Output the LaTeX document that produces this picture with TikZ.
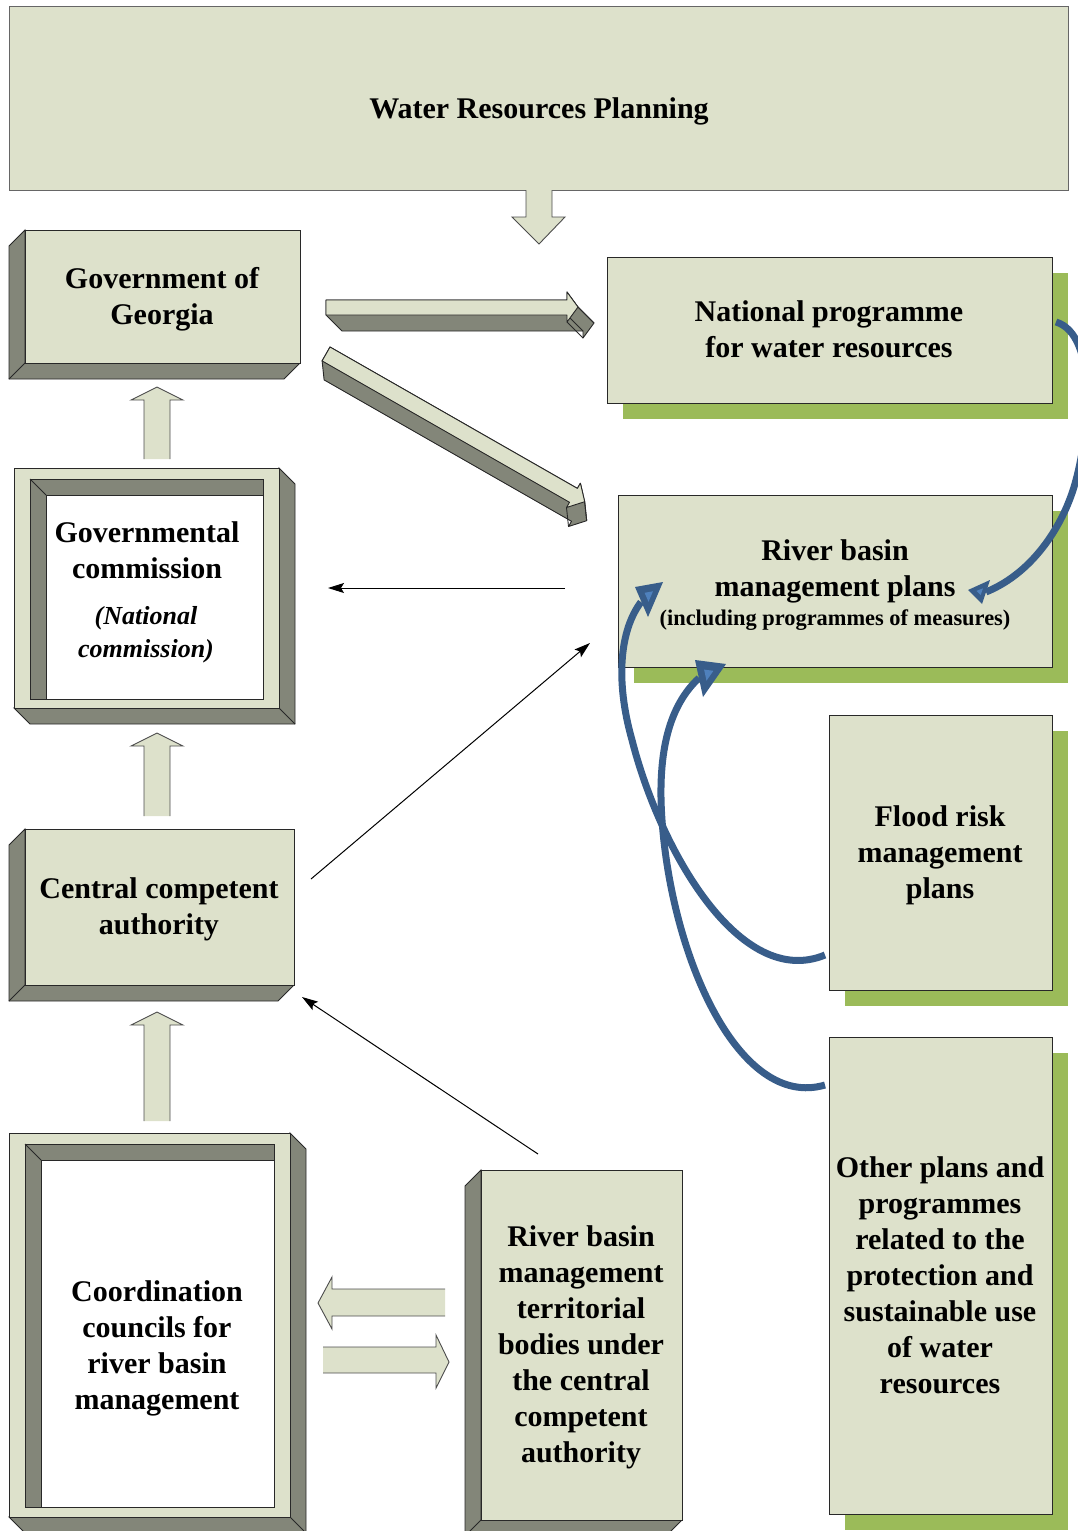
\documentclass[tikz,border=0pt]{standalone}
\usepackage{fontspec}
\setmainfont{Liberation Serif}
\usetikzlibrary{arrows.meta,calc}
\definecolor{lite}{RGB}{221,225,203}
\definecolor{drk}{RGB}{131,134,121}
\definecolor{grn}{RGB}{155,187,89}
\definecolor{blu}{RGB}{56,93,138}
\definecolor{blul}{RGB}{79,129,189}
\definecolor{edgec}{RGB}{40,40,40}
\newcommand\uparr[3]{%
 \fill[lite] (#1-13,#3) -- (#1-13,#2+13) -- (#1-26,#2+13) -- (#1,#2) -- (#1+26,#2+13) -- (#1+13,#2+13) -- (#1+13,#3) -- cycle;
 \draw[blockedge] (#1-13,#3) -- (#1-13,#2+13) -- (#1-26,#2+13) -- (#1,#2) -- (#1+26,#2+13) -- (#1+13,#2+13) -- (#1+13,#3);}
\newcommand\tdboxl[4]{%
 \draw[side] (#1,#2) -- (#1-16,#2+16) -- (#1-16,#4+16) -- (#3-16,#4+16) -- (#3,#4) -- (#1,#4) -- cycle;
 \draw[side] (#1,#4) -- (#1-16,#4+16);
 \draw[face] (#1,#2) rectangle (#3,#4);}
\newcommand\tdframe[8]{%
 \draw[side] (#3,#2) -- (#3+16,#2+16) -- (#3+16,#4+16) -- (#1+16,#4+16) -- (#1,#4) -- (#3,#4) -- cycle;
 \draw[side] (#3,#4) -- (#3+16,#4+16);
 \draw[face] (#1,#2) rectangle (#3,#4);
 \draw[side] (#5,#6) rectangle (#7,#8);
 \draw[edgec,line width=0.9pt,fill=white] (#5+16,#8) -- (#5+16,#6+16) -- (#7,#6+16) -- (#7,#8) -- cycle;
 \draw[edgec,line width=0.9pt] (#5,#6) -- (#5+16,#6+16);}
\newcommand\gbox[4]{%
 \fill[grn] (#1+16,#2+16) rectangle (#3+16,#4+16);
 \draw[face] (#1,#2) rectangle (#3,#4);}
\begin{document}
\begin{tikzpicture}[x=1pt,y=-1pt,
 face/.style={fill=lite,draw=edgec,line width=0.9pt},
 side/.style={fill=drk,draw=edgec,line width=0.9pt},
 blockedge/.style={draw=black!70,line width=0.9pt},
 lbl/.style={font=\fontsize{30}{36}\selectfont\bfseries,align=center,inner sep=0pt},
 sublbl/.style={font=\fontsize{22.4}{26}\selectfont\bfseries,align=center,inner sep=0pt},
 itlbl/.style={font=\fontsize{26}{33}\selectfont\bfseries\itshape,align=center,inner sep=0pt},
 thinarrow/.style={draw=black,line width=1pt,-{Stealth[length=16pt,width=10pt,inset=3pt]}},
 blucurve/.style={draw=blu,line width=7pt},
 block3d/.style={fill=drk,draw=edgec,line width=0.9pt,line join=round},
 block3dtop/.style={fill=lite,draw=edgec,line width=0.9pt,line join=round}]
\useasboundingbox (0,0) rectangle (1078,1531);

% title box
\draw[fill=lite,draw=black!60,line width=0.9pt] (9,6) rectangle (1068,190);
\node[lbl] (wrp) at (539,111) {Water Resources Planning};
\fill[lite] (526,189) -- (526,217) -- (512,217) -- (539,244) -- (565,217) -- (552,217) -- (552,189) -- cycle;
\draw[blockedge] (526,190) -- (526,217) -- (512,217) -- (539,244) -- (565,217) -- (552,217) -- (552,190);

% left column
\tdboxl{25}{230}{300}{363}
\node[lbl] (gov) at (162,299) {Government of\\Georgia};
\uparr{157}{387}{459}
\tdframe{14}{468}{279}{708}{30}{479}{263}{699}
\node[lbl] (gcom) at (147,550) {Governmental\\commission};
\node[itlbl] (ncom) at (146,634.5) {(National\\commission)};
\uparr{157}{733}{816}
\tdboxl{25}{829}{294}{985}
\node[lbl] (cca) at (159,909) {Central competent\\authority};
\uparr{157}{1012}{1121}
\tdframe{9}{1133}{290}{1517}{25}{1144}{274}{1507}
\node[lbl] (ccrb) at (157,1348) {Coordination\\councils for\\river basin\\management};
\tdboxl{481}{1170}{682}{1520}
\node[lbl] (rbtb) at (581,1347) {River basin\\management\\territorial\\bodies under\\the central\\competent\\authority};

% double block arrows
\fill[lite] (445,1289) -- (332,1289) -- (332,1277) -- (318,1303) -- (332,1329) -- (332,1316) -- (445,1316) -- cycle;
\draw[blockedge] (445,1289) -- (332,1289) -- (332,1277) -- (318,1303) -- (332,1329) -- (332,1316) -- (445,1316);
\fill[lite] (323,1347) -- (436,1347) -- (436,1335) -- (449,1362) -- (436,1388) -- (436,1373) -- (323,1373) -- cycle;
\draw[blockedge] (323,1347) -- (436,1347) -- (436,1335) -- (449,1362) -- (436,1388) -- (436,1373) -- (323,1373);

% right column
\gbox{607}{257}{1052}{403}
\node[lbl] (npwr) at (829,329) {National programme\\for water resources};
\gbox{618}{495}{1052}{667}
\node[lbl] (rbmp) at (835,571) {River basin\\management plans};
\node[sublbl] (rbmps) at (835,620) {(including programmes of measures)};
\gbox{829}{715}{1052}{990}
\node[lbl] (frmp) at (940,855) {Flood risk\\management\\plans};
\gbox{829}{1037}{1052}{1514}
\node[lbl] (oth) at (940,1275) {Other plans and\\programmes\\related to the\\protection and\\sustainable use\\of water\\resources};

% 3D arrows
\draw[block3d] (326,300) -- (567,300) -- (567,292) -- (578,307) -- (594,323) -- (583,338) -- (583,331) -- (342,331) -- (326,315) -- cycle;
\draw[edgec,line width=0.9pt] (567,315) -- (583,331) (567,322) -- (583,338);
\draw[block3dtop] (326,300) -- (567,300) -- (567,292) -- (578,307) -- (567,322) -- (567,315) -- (326,315) -- cycle;
\draw[edgec,line width=0.9pt] (578,307) -- (594,323);

\draw[block3d] (330,347) -- (577.4,488.4) -- (580.4,483.2) -- (584.7,501.7) -- (586.7,520.7) -- (568.5,526.5) -- (571.5,521.3) -- (324.1,379.9) -- (322.1,360.9) -- cycle;
\draw[edgec,line width=0.9pt] (566.5,507.5) -- (568.5,526.5);
\draw[block3dtop] (330,347) -- (577.4,488.4) -- (580.4,483.2) -- (584.7,501.7) -- (566.5,507.5) -- (569.5,502.3) -- (322.1,360.9) -- cycle;
\draw[edgec,line width=0.9pt] (584.7,501.7) -- (586.7,520.7);

% thin arrows
\coordinate (t1s) at (565,588); \coordinate (t1e) at (328,588);
\coordinate (t2s) at (311,879); \coordinate (t2e) at (590,643);
\coordinate (t3s) at (538,1154); \coordinate (t3e) at (302,997);
\draw[thinarrow] (t1s) -- (t1e);
\draw[thinarrow] (t2s) -- (t2e);
\draw[thinarrow] (t3s) -- (t3e);

% blue curved arrows
\coordinate (cAs) at (825,955); \coordinate (cAe) at (641,602);
\coordinate (cBs) at (825,1085); \coordinate (cBe) at (699,678);
\coordinate (cCs) at (1056,322); \coordinate (cCe) at (986,592);
\draw[blucurve] (cAs) .. controls (740,990) and (660,850) .. (632,740) .. controls (615,680) and (620,630) .. (cAe);
\draw[blucurve] (cBs) .. controls (740,1110) and (672,960) .. (662,820) .. controls (657,750) and (670,705) .. (cBe);
\draw[blucurve] (cCs) .. controls (1098,335) and (1089,432) .. (1076,480) .. controls (1065,522) and (1035,572) .. (cCe);
\fill[blu] (663,582) -- (635,587) -- (648,617) -- cycle;
\fill[blul] (653,591.3) -- (644.6,592.8) -- (648.5,601.8) -- cycle;
\fill[blu] (726,664) -- (695,660) -- (703,697) -- cycle;
\fill[blul] (713.4,670.8) -- (704.1,669.6) -- (706.5,680.7) -- cycle;
\fill[blu] (968,590) -- (990,580) -- (982,604) -- cycle;
\fill[blul] (976.4,590.9) -- (983,588.3) -- (980.6,595.1) -- cycle;
\end{tikzpicture}
\end{document}
